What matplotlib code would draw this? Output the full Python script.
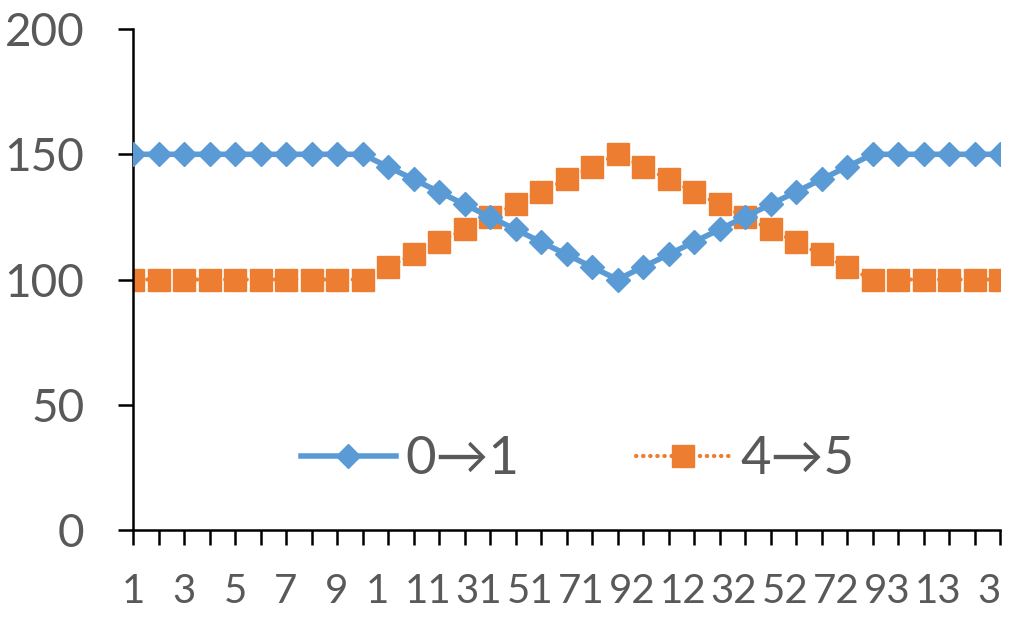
import matplotlib
matplotlib.use('Agg')
import matplotlib.pyplot as plt
import matplotlib.transforms as mtransforms

plt.rcParams['font.family'] = ['Lato', 'DejaVu Sans']

# category positions 1..35
x = list(range(1, 36))
trans_01 = [150] * 10 + [145, 140, 135, 130, 125, 120, 115, 110, 105, 100,
                         105, 110, 115, 120, 125, 130, 135, 140, 145, 150] + [150] * 5
trans_45 = [100] * 10 + [105, 110, 115, 120, 125, 130, 135, 140, 145, 150,
                         145, 140, 135, 130, 125, 120, 115, 110, 105, 100] + [100] * 5

# x labels as they appear (overlapping two-digit labels in the original)
label_pos = list(range(1, 36, 2))
label_text = ['1', '3', '5', '7', '9', '1', '11', '31', '51', '71',
              '92', '12', '32', '52', '72', '93', '13', '3']

blue = '#5B9BD5'
orange = '#ED7D31'
grey = '#595959'

fig = plt.figure(figsize=(10.17, 6.18), dpi=100)
ax = fig.add_axes([0.1308, 0.1424, 0.8525, 0.8106])

ax.plot(x, trans_01, color=blue, lw=4, marker='D', ms=12.5, label='0→1', zorder=3)
ax.plot(x, trans_45, color=orange, lw=3, ls=(0, (0.1, 1.6)), dash_capstyle='round',
        marker='s', ms=16, label='4→5', zorder=2)

ax.set_xlim(1, 35)
ax.set_ylim(0, 200)
ax.set_yticks([0, 50, 100, 150, 200])

labels = dict(zip(label_pos, label_text))
ax.set_xticks(x, labels=[labels.get(i, '') for i in x])

for s in ['top', 'right']:
    ax.spines[s].set_visible(False)
for s in ['left', 'bottom']:
    ax.spines[s].set_linewidth(1.8)
    ax.spines[s].set_color('black')

ax.tick_params(axis='both', direction='out', length=11, width=1.8,
               color='black', labelsize=33, labelcolor=grey)
ax.tick_params(axis='y', pad=24)
ax.tick_params(axis='x', pad=20, labelsize=29)

# shift the two-digit labels slightly left like the original
offset = mtransforms.ScaledTranslation(-11 / 100, 0, fig.dpi_scale_trans)
for lbl, p in zip(ax.xaxis.get_majorticklabels(), x):
    if p >= 11:
        lbl.set_transform(lbl.get_transform() + offset)

ax.legend(loc='center', bbox_to_anchor=(0.513, 0.14), ncol=2, frameon=False,
          fontsize=38, labelcolor=grey, handlelength=1.8, handletextpad=0.19,
          columnspacing=2.2)

fig.savefig('out.png', dpi=100)
